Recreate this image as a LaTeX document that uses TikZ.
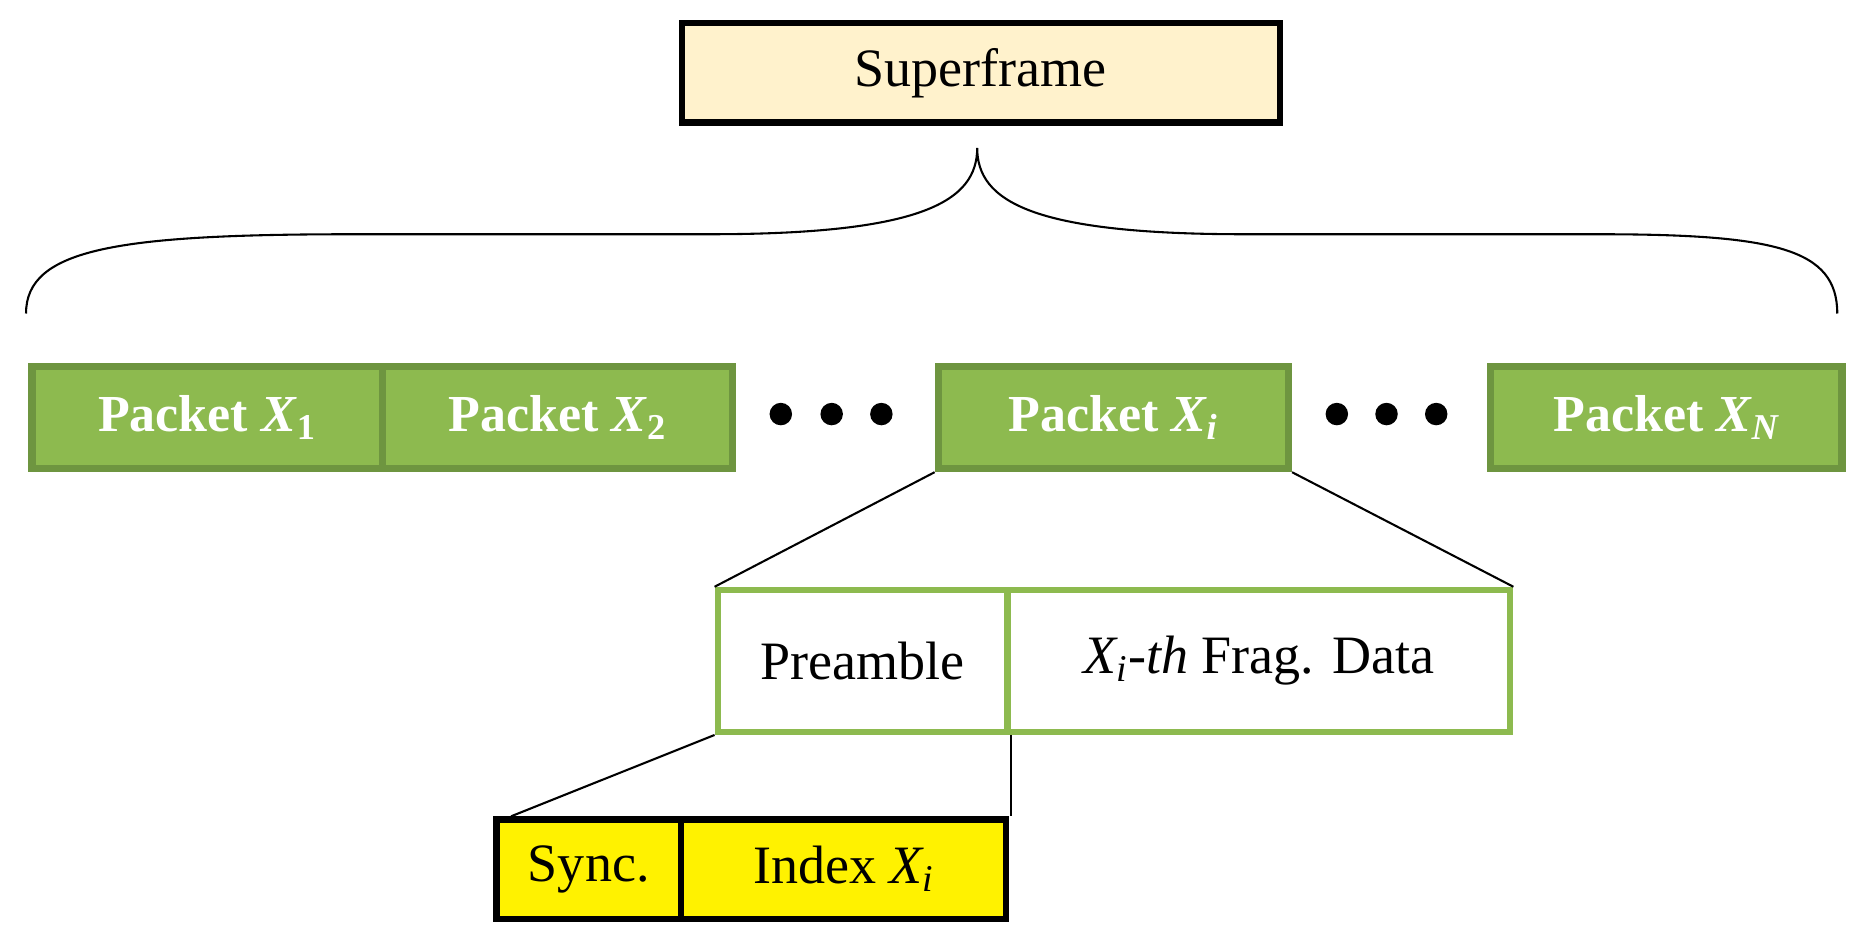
\documentclass[tikz,border=0pt]{standalone}
\usepackage{fontspec}
\setmainfont{Liberation Serif}
\definecolor{pg}{HTML}{8DBA4F}
\definecolor{pgd}{HTML}{6E9540}
\definecolor{cream}{HTML}{FFF2CC}
\begin{document}
\begin{tikzpicture}[x=0.02cm,y=-0.02cm,
  pk/.style={draw=pgd,line width=3.5pt,fill=pg,text=white,font=\fontsize{25}{29}\selectfont\bfseries,anchor=north west,inner sep=0pt},
  bx/.style={line width=3pt,anchor=north west,inner sep=0pt,font=\fontsize{26}{30}\selectfont},
  ln/.style={line width=1pt},
  dot/.style={circle,fill=black,inner sep=0pt,minimum size=0.38cm}]
\useasboundingbox (0,0) rectangle (1568,800);
\node[bx,draw=black,fill=cream,minimum width=505*0.02cm,minimum height=84*0.02cm] (sf) at (574,17) {Superframe};
\coordinate (bl) at (22,265); \coordinate (br) at (1553,265); \coordinate (bt) at (826,125);
\draw[line width=1pt] (bl) .. controls (22,210) and (100,198) .. (300,198) -- (600,198) .. controls (780,198) and (826,170) .. (bt)
  .. controls (826,170) and (872,198) .. (1052,198) -- (1350,198) .. controls (1500,198) and (1553,210) .. (br);
\node[pk,minimum width=296*0.02cm,minimum height=86*0.02cm] (p1) at (24,307) {Packet \textit{X}\textsubscript{1}};
\node[pk,minimum width=296*0.02cm,minimum height=86*0.02cm] (p2) at (320,307) {Packet \textit{X}\textsubscript{2}};
\node[pk,minimum width=296*0.02cm,minimum height=86*0.02cm] (pi) at (790,307) {Packet \textit{X\textsubscript{i}}};
\node[pk,minimum width=297*0.02cm,minimum height=86*0.02cm] (pn) at (1257,307) {Packet \textit{X\textsubscript{N}}};
\foreach \x [count=\k] in {660,703,745,1130,1172,1214} \node[dot] (d\k) at (\x,350) {};
\node[bx,draw=pg,fill=white,minimum width=245*0.02cm,minimum height=120*0.02cm] (pre) at (604,496) {Preamble};
\node[bx,draw=pg,fill=white,minimum width=425*0.02cm,minimum height=120*0.02cm] (fd) at (849,496) {\textit{X\textsubscript{i}-th} Frag. Data};
\draw[ln] (pi.south west) -- (pre.north west);
\draw[ln] (pi.south east) -- (fd.north east);
\node[bx,draw=black,fill=yellow,minimum width=156*0.02cm,minimum height=84*0.02cm] (sy) at (417,690) {Sync.};
\node[bx,draw=black,fill=yellow,minimum width=275*0.02cm,minimum height=84*0.02cm] (ix) at (573,690) {Index \textit{X\textsubscript{i}}};
\coordinate (sytop) at (432,690);
\draw[ln] (pre.south west) -- (sytop);
\draw[ln] (pre.south east) -- (pre.south east |- ix.north);
\end{tikzpicture}
\end{document}
